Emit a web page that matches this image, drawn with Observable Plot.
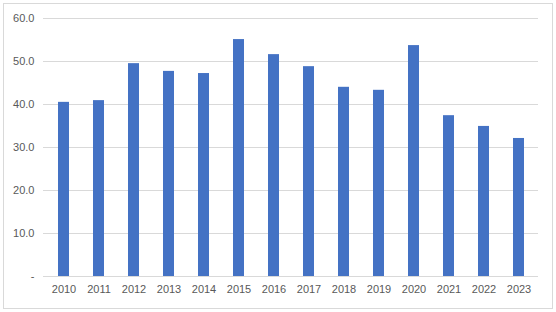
<!DOCTYPE html>
<html>
<head>
<meta charset="utf-8">
<script src="https://cdn.jsdelivr.net/npm/d3@7"></script>
<script src="https://cdn.jsdelivr.net/npm/@observablehq/plot@0.6"></script>
<style>
  html, body { margin: 0; padding: 0; background: #fff; }
  #wrap { position: relative; width: 556px; height: 312px; }
  #frame { position: absolute; left: 3px; top: 3px; width: 548px; height: 304px; border: 1px solid #d9d9d9; }
  #chart { position: absolute; left: 0; top: 0; }
</style>
</head>
<body>
<div id="wrap"><div id="frame"></div><div id="chart"></div></div>
<script>
const years = ["2010","2011","2012","2013","2014","2015","2016","2017","2018","2019","2020","2021","2022","2023"];
const values = [40.5, 40.9, 49.5, 47.7, 47.2, 55.1, 51.6, 48.8, 44.0, 43.3, 53.7, 37.4, 34.9, 32.1];
const yTicks = [0, 10, 20, 30, 40, 50, 60];

const data = years.map((year, i) => ({year, value: values[i]}));

const chart = Plot.plot({
  width: 556,
  height: 312,
  marginLeft: 43,
  marginRight: 18,
  marginTop: 18,
  marginBottom: 36,
  style: {fontFamily: "'Liberation Sans', Arial, sans-serif", fontSize: "11px", color: "#595959", background: "transparent"},
  x: {domain: years, paddingInner: 0.69, paddingOuter: 0.345, label: null, tickSize: 0, tickPadding: 9},
  y: {domain: [0, 60], ticks: yTicks, label: null, tickSize: 0, tickPadding: 9,
      tickFormat: d => d === 0 ? "-" : d3.format(".1f")(d)},
  marks: [
    Plot.gridY(yTicks, {stroke: "#d9d9d9", strokeOpacity: 1, strokeWidth: 1}),
    Plot.barY(data, {x: "year", y: "value", fill: "#4472c4"})
  ]
});
document.getElementById("chart").appendChild(chart);
</script>
</body>
</html>
